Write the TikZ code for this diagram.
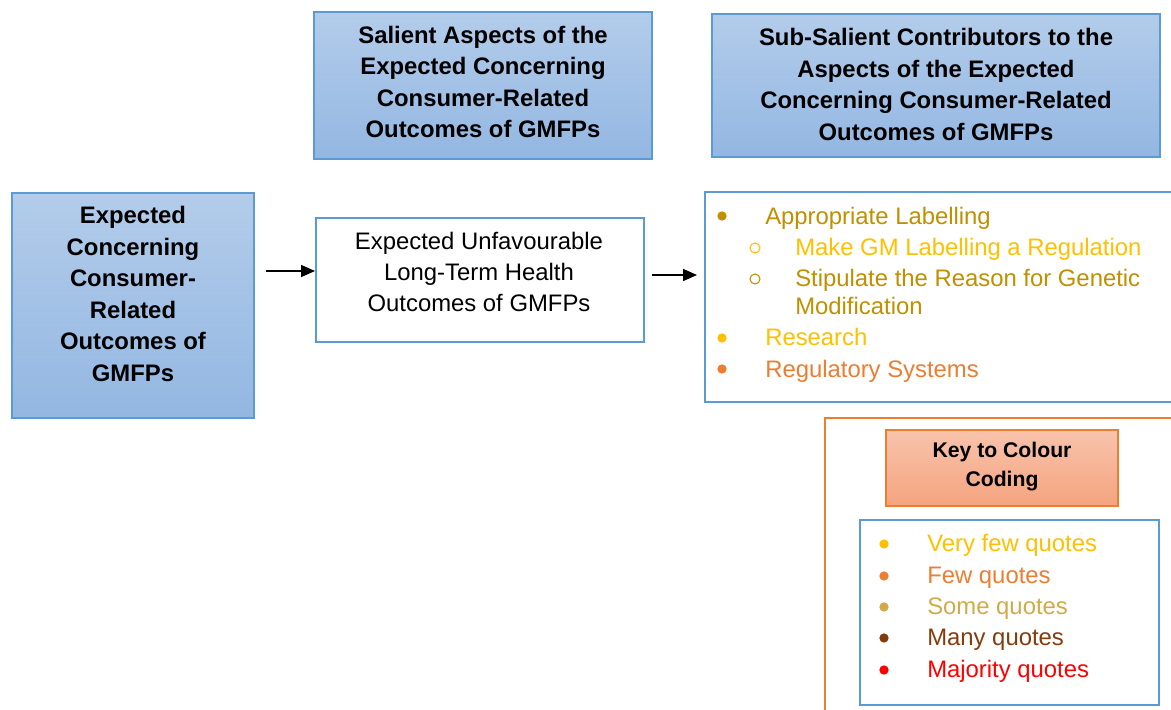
\documentclass[tikz,border=0pt]{standalone}
\usepackage{fontspec}
\setmainfont{Liberation Sans}
\usetikzlibrary{arrows.meta}

\definecolor{boxblue}{HTML}{5B9BD5}
\definecolor{fillTop}{HTML}{B3CCEA}
\definecolor{fillBot}{HTML}{93B7E2}
\definecolor{keyorange}{HTML}{ED7D31}
\definecolor{keyTop}{HTML}{F8C3AC}
\definecolor{keyBot}{HTML}{F4A47F}
\definecolor{veryfew}{HTML}{FFC000}
\definecolor{few}{HTML}{ED7D31}
\definecolor{some}{HTML}{D0AC48}
\definecolor{many}{HTML}{843C0C}
\definecolor{majority}{HTML}{FF0000}
\definecolor{darkgold}{HTML}{BF9000}

\tikzset{
  bluehead/.style={draw=boxblue, line width=1.5pt, top color=fillTop, bottom color=fillBot},
  plainbox/.style={draw=boxblue, line width=1.5pt, fill=white},
  headtext/.style={align=center, font=\fontsize{17.9}{23.7}\selectfont\bfseries, inner sep=0pt},
  midtext/.style={align=center, font=\fontsize{17.9}{23.3}\selectfont, inner sep=0pt},
  itemtext/.style={anchor=base west, font=\fontsize{17.9}{20}\selectfont, inner sep=0pt},
  keytext/.style={anchor=base west, font=\fontsize{17.9}{20}\selectfont, inner sep=0pt},
  dot/.style={circle, inner sep=0pt, minimum size=7pt},
  ring/.style={circle, inner sep=0pt, minimum size=7.5pt, draw, line width=0.8pt},
  arr/.style={line width=1.1pt, -{Triangle[length=10.5pt, width=9pt]}}
}

\begin{document}
\begin{tikzpicture}[x=0.75pt, y=-0.75pt]
\useasboundingbox (0,0) rectangle (1171,710);
\clip (0,0) rectangle (1171,710);
\fill[white] (0,0) rectangle (1171,710);

% column headings
\draw[bluehead] (314,12) rectangle (652,159);
\node[headtext] (hsal) at (483,82) {Salient Aspects of the\\Expected Concerning\\Consumer-Related\\Outcomes of GMFPs};
\draw[bluehead] (712,14) rectangle (1160,157);
\node[headtext] (hsub) at (936,84.5) {Sub-Salient Contributors to the\\Aspects of the Expected\\Concerning Consumer-Related\\Outcomes of GMFPs};

% outcome box on the left
\draw[bluehead] (12,193) rectangle (254,418);
\node[headtext] (outc) at (133,294) {Expected\\Concerning\\Consumer-\\Related\\Outcomes of\\GMFPs};

% aspect box
\node[plainbox, minimum width=328*0.75pt, minimum height=124*0.75pt, anchor=north west] (mid) at (315,217) {};
\node[midtext] (midt) at (479,272) {Expected Unfavourable\\Long-Term Health\\Outcomes of GMFPs};

% contributors box
\node[plainbox, minimum width=480*0.75pt, minimum height=210*0.75pt, anchor=north west] (contr) at (704,191) {};

% connectors
\coordinate (a1s) at (266,271);
\coordinate (a2s) at (652,275);
\coordinate (a2e) at (697,275);
\draw[arr] (a1s) -- (a1s -| mid.west);
\draw[arr] (a2s) -- (a2e);

% contributor list
\node[dot, fill=darkgold] (b1) at (722,216) {};
\node[itemtext, text=darkgold] (t1) at (765,224) {Appropriate Labelling};
\node[ring, draw=veryfew] (b2) at (755,248) {};
\node[itemtext, text=veryfew] (t2) at (795,255) {Make GM Labelling a Regulation};
\node[ring, draw=darkgold] (b3) at (755,279) {};
\node[itemtext, text=darkgold] (t3) at (795,286) {Stipulate the Reason for Genetic};
\node[itemtext, text=darkgold] (t3b) at (795,314) {Modification};
\node[dot, fill=veryfew] (b4) at (722,338) {};
\node[itemtext, text=veryfew] (t4) at (765,345) {Research};
\node[dot, fill=few] (b5) at (722,369) {};
\node[itemtext, text=few] (t5) at (765,377) {Regulatory Systems};

% key to colour coding
\node[draw=keyorange, line width=1.5pt, fill=white, minimum width=360*0.75pt, minimum height=310*0.75pt, anchor=north west] (keyframe) at (824,417) {};
\draw[draw=keyorange, line width=1.2pt, top color=keyTop, bottom color=keyBot] (886,430) rectangle (1118,506);
\node[headtext, font=\fontsize{15.9}{21.8}\selectfont\bfseries] (keyh) at (1002,466.5) {Key to Colour\\Coding};

\node[plainbox, minimum width=299*0.75pt, minimum height=185*0.75pt, anchor=north west] (keyl) at (859,519) {};
\node[dot, fill=veryfew] (k1) at (884,544) {};
\node[keytext, text=veryfew] (kt1) at (927,551) {Very few quotes};
\node[dot, fill=few] (k2) at (884,576) {};
\node[keytext, text=few] (kt2) at (927,583) {Few quotes};
\node[dot, fill=some] (k3) at (884,607) {};
\node[keytext, text=some] (kt3) at (927,614) {Some quotes};
\node[dot, fill=many] (k4) at (884,638) {};
\node[keytext, text=many] (kt4) at (927,645) {Many quotes};
\node[dot, fill=majority] (k5) at (884,670) {};
\node[keytext, text=majority] (kt5) at (927,677) {Majority quotes};
\end{tikzpicture}
\end{document}
